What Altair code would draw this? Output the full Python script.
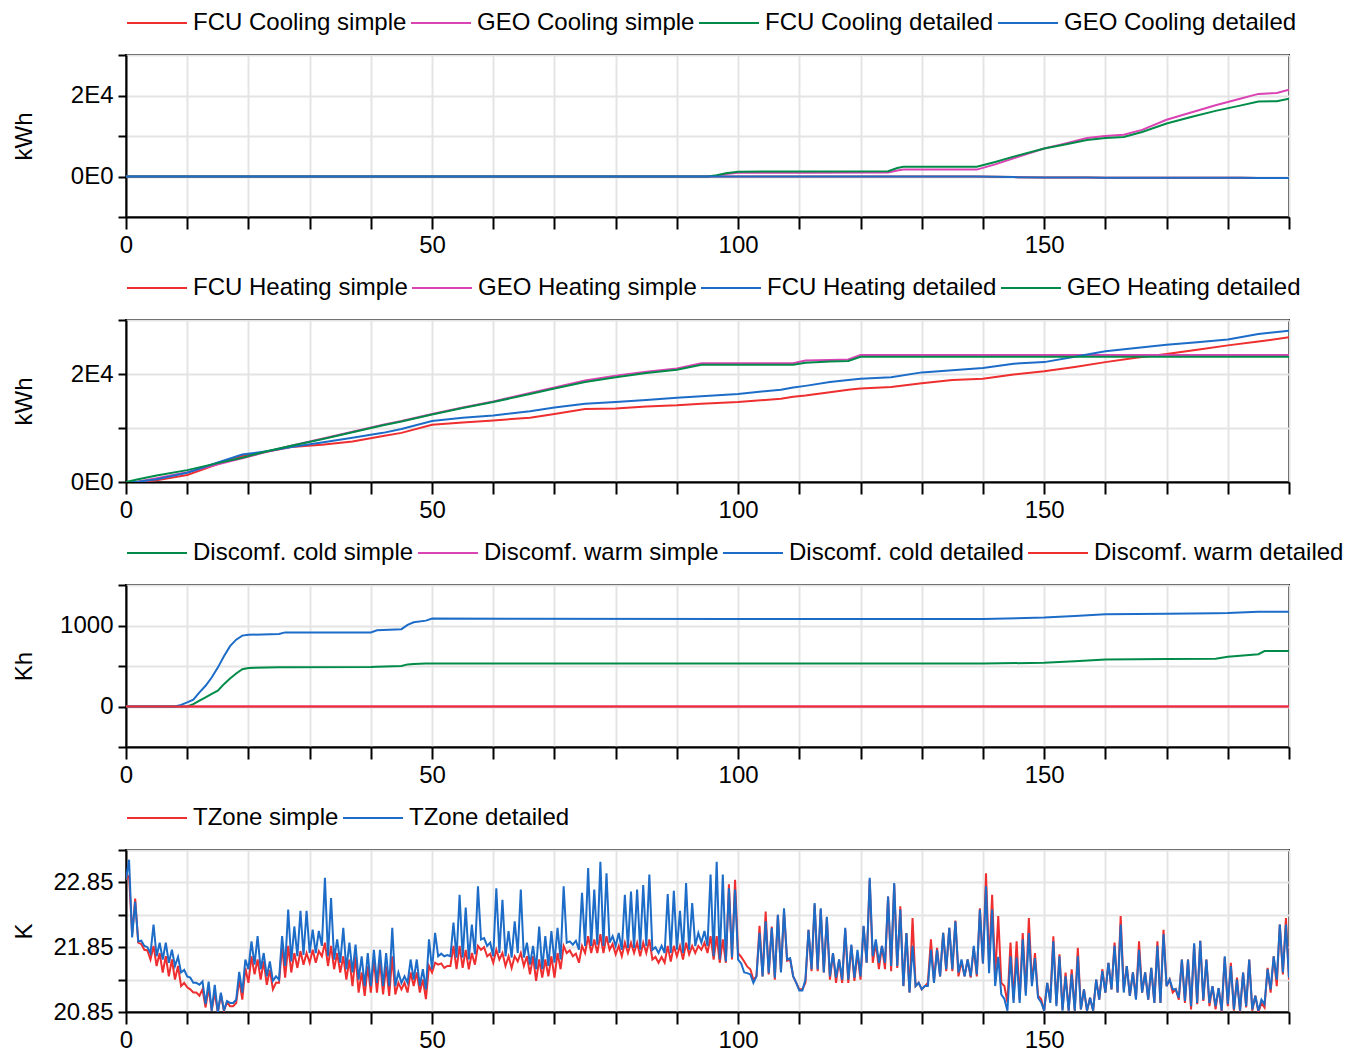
import altair as alt
import pandas as pd

FONT = "Liberation Sans"
RED = "#EE2E2F"
MAG = "#D943B4"
GRN = "#008C48"
BLU = "#1C6CC8"

# ---------------- Panel 1: cooling energy (kWh) ----------------
cool_t = [0, 95, 96.5, 98, 100, 110, 124.5, 126, 127, 139, 142, 145, 150, 153, 157,
          160, 163, 166, 170, 174, 178, 182, 185, 188, 190]
geo_cool_simple = [0, 0, 200, 600, 900, 950, 1000, 1500, 1700, 1700, 3000, 4500, 6900, 8000,
                   9500, 10000, 10300, 11500, 14000, 15800, 17600, 19200, 20400, 20600, 21400]
fcu_cool_detailed = [0, 0, 300, 800, 1200, 1250, 1300, 2100, 2400, 2400, 3600, 4900, 6900, 7800,
                     9000, 9500, 9760, 11000, 13100, 14700, 16200, 17500, 18500, 18600, 19200]
geo_cool_detailed = [0, 0, 0, 0, 0, 0, 0, 0, 0, 0, -80, -150, -250, -260, -270,
                     -280, -290, -300, -300, -310, -320, -330, -340, -340, -350]
fcu_cool_simple = list(geo_cool_detailed)

# ---------------- Panel 2: heating energy (kWh) ----------------
heat_t = [0, 2, 5, 10, 15, 19, 23, 27, 32, 37, 42, 45, 50, 55, 60, 66, 70, 75, 80, 85, 90, 94,
          100, 107, 109, 111, 115, 118, 120, 125, 130, 135, 140, 145, 150, 155, 160, 165, 170,
          175, 180, 185, 190]
fcu_heat_simple = [0, 30, 300, 1300, 3300, 4800, 5600, 6500, 6900, 7500, 8500, 9100, 10600, 11000,
                   11400, 11900, 12600, 13500, 13600, 14000, 14200, 14500, 14800, 15400, 15800,
                   16000, 16600, 17100, 17300, 17600, 18300, 18900, 19100, 19900, 20500, 21300,
                   22200, 23000, 23700, 24500, 25300, 26000, 26800]
geo_heat_simple = [0, 100, 700, 1800, 3300, 4400, 5600, 6700, 8000, 9300, 10600, 11300, 12600,
                   13800, 14900, 16500, 17500, 18800, 19700, 20400, 21000, 22000, 22000, 22000,
                   22000, 22500, 22600, 22700, 23500, 23500, 23500, 23500, 23500, 23500, 23500,
                   23500, 23500, 23500, 23500, 23500, 23500, 23500, 23500]
fcu_heat_detailed = [0, 50, 500, 1700, 3600, 5100, 5700, 6500, 7300, 8200, 9100, 9800, 11300,
                     11900, 12300, 13100, 13800, 14500, 14800, 15200, 15600, 15900, 16300, 17100,
                     17500, 17800, 18500, 18900, 19100, 19400, 20300, 20700, 21100, 21900, 22200,
                     23200, 24200, 24800, 25400, 25900, 26400, 27400, 28000]
geo_heat_detailed = [0, 500, 1200, 2200, 3500, 4500, 5700, 6700, 7900, 9200, 10500, 11200, 12500,
                     13700, 14800, 16300, 17300, 18500, 19400, 20200, 20800, 21700, 21700, 21700,
                     21700, 22100, 22300, 22400, 23200, 23200, 23200, 23200, 23200, 23200, 23200,
                     23200, 23200, 23200, 23200, 23200, 23200, 23200, 23200]

# ---------------- Panel 3: discomfort (Kh) ----------------
disc_t = [0, 8, 9, 10, 11, 12, 13, 14, 15, 16, 17, 18, 19, 20, 25, 26, 40, 41, 45, 46, 47, 49,
          50, 100, 140, 150, 155, 160, 170, 178, 180, 185, 186, 190]
disc_cold_simple = [0, 0, 0, 0, 30, 73, 114, 155, 195, 276, 345, 407, 460, 476, 484, 486, 488,
                    490, 500, 520, 525, 530, 532, 530, 530, 540, 560, 580, 585, 590, 615, 645,
                    685, 685]
disc_warm_simple = [0] * len(disc_t)
disc_cold_detailed = [0, 0, 20, 50, 85, 175, 256, 358, 480, 620, 745, 825, 875, 885, 895, 915,
                      915, 940, 955, 1008, 1040, 1060, 1085, 1081, 1081, 1098, 1118, 1138, 1146,
                      1152, 1155, 1171, 1171, 1171]
disc_warm_detailed = [0] * len(disc_t)

# ---------------- Panel 4: zone temperature, daily low (day d) and peak (day d + 0.5) ----------------
tz_detailed_low = [
    22.90, 22.00, 21.94, 21.87, 21.76, 21.71, 21.66, 21.61, 21.56, 21.46,
    21.40, 21.30, 21.27, 20.97, 20.87, 20.84, 20.87, 20.99, 21.04, 21.15,
    21.51, 21.58, 21.51, 21.40, 21.33, 21.35, 21.56, 21.63, 21.71, 21.73,
    21.76, 21.76, 21.87, 21.71, 21.66, 21.61, 21.51, 21.46, 21.35, 21.25,
    21.25, 21.30, 21.25, 21.25, 21.25, 21.30, 21.30, 21.35, 21.25, 21.20,
    21.51, 21.71, 21.71, 21.71, 21.69, 21.69, 21.66, 21.74, 21.97, 21.87,
    21.71, 21.76, 21.71, 21.69, 21.76, 21.69, 21.58, 21.51, 21.51, 21.56,
    21.61, 21.66, 21.92, 21.89, 21.81, 21.87, 21.87, 21.89, 21.87, 21.92,
    21.87, 21.81, 21.84, 21.84, 21.81, 21.87, 21.81, 21.76, 21.76, 21.76,
    21.81, 21.76, 21.81, 21.87, 21.92, 21.87, 21.71, 21.66, 21.63, 21.69,
    21.66, 21.46, 21.43, 21.40, 21.40, 21.45, 21.38, 21.46, 21.66, 21.40,
    21.18, 21.35, 21.51, 21.51, 21.46, 21.40, 21.38, 21.35, 21.35, 21.38,
    21.40, 21.61, 21.71, 21.61, 21.61, 21.56, 21.56, 21.25, 21.15, 21.25,
    21.20, 21.25, 21.30, 21.40, 21.51, 21.51, 21.46, 21.40, 21.40, 21.43,
    21.60, 21.45, 21.25, 21.12, 20.87, 20.99, 20.99, 21.10, 21.25, 21.07,
    20.87, 20.99, 20.94, 20.87, 20.87, 20.87, 20.89, 20.87, 20.87, 21.04,
    21.15, 21.20, 21.15, 21.15, 21.10, 21.04, 21.15, 21.04, 20.99, 20.99,
    21.25, 21.20, 21.07, 21.02, 20.94, 20.99, 21.04, 20.99, 20.94, 20.87,
    20.97, 20.89, 20.87, 20.94, 20.89, 20.87, 20.97, 21.20, 21.35, 21.46,
    21.38]
tz_detailed_peak = [
    23.20, 22.55, 21.95, 21.85, 22.20, 21.92, 21.92, 21.81, 21.70, 21.50,
    21.38, 21.30, 21.32, 21.32, 21.27, 21.15, 21.02, 20.99, 21.47, 21.66,
    21.94, 22.02, 21.76, 21.63, 21.40, 22.02, 22.43, 22.17, 22.41, 22.41,
    22.12, 22.10, 22.92, 22.61, 21.97, 22.15, 21.92, 21.89, 21.71, 21.76,
    21.81, 21.81, 21.76, 22.15, 21.46, 21.40, 21.66, 21.66, 21.51, 21.97,
    22.07, 21.75, 21.73, 22.23, 22.66, 22.46, 22.20, 22.79, 21.99, 21.92,
    22.76, 22.58, 22.10, 22.25, 22.74, 21.92, 21.87, 22.17, 22.02, 22.10,
    22.15, 22.79, 21.94, 21.95, 22.69, 23.07, 22.74, 23.17, 22.99, 22.02,
    22.07, 22.66, 22.71, 22.74, 22.81, 22.97, 21.85, 21.87, 22.67, 22.72,
    22.41, 22.84, 22.53, 22.07, 22.10, 22.97, 23.17, 22.97, 22.76, 22.74,
    21.60, 21.45, 21.30, 22.07, 22.25, 22.15, 22.35, 22.45, 21.68, 21.30,
    21.18, 22.12, 22.53, 22.45, 22.32, 21.76, 21.66, 22.15, 21.89, 21.81,
    22.18, 22.92, 21.97, 21.87, 22.63, 22.84, 22.43, 22.07, 21.87, 21.30,
    21.25, 21.81, 21.81, 22.07, 22.15, 22.25, 21.66, 21.66, 21.87, 22.43,
    22.79, 22.43, 21.70, 21.05, 21.71, 21.69, 21.97, 22.07, 21.68, 21.00,
    21.30, 21.94, 21.71, 21.40, 21.43, 21.71, 21.20, 21.07, 21.35, 21.48,
    21.61, 21.87, 22.20, 21.56, 21.46, 21.81, 21.46, 21.53, 21.87, 22.05,
    21.35, 21.20, 21.66, 21.66, 21.91, 21.95, 21.66, 21.25, 21.22, 21.71,
    21.56, 21.35, 21.46, 21.66, 21.10, 21.04, 21.51, 21.71, 22.20, 22.20]
tz_simple_low = [
    22.90, 22.05, 21.92, 21.81, 21.66, 21.56, 21.46, 21.40, 21.35, 21.25,
    21.23, 21.15, 21.10, 20.92, 20.87, 20.84, 20.87, 20.94, 20.99, 21.04,
    21.30, 21.43, 21.35, 21.27, 21.20, 21.30, 21.38, 21.46, 21.53, 21.58,
    21.61, 21.61, 21.71, 21.56, 21.51, 21.46, 21.35, 21.25, 21.15, 21.10,
    21.15, 21.15, 21.12, 21.10, 21.12, 21.20, 21.15, 21.25, 21.15, 21.05,
    21.46, 21.58, 21.53, 21.56, 21.51, 21.53, 21.51, 21.58, 21.81, 21.71,
    21.61, 21.66, 21.56, 21.53, 21.63, 21.56, 21.43, 21.33, 21.38, 21.40,
    21.38, 21.51, 21.76, 21.71, 21.61, 21.76, 21.76, 21.76, 21.76, 21.81,
    21.74, 21.71, 21.76, 21.76, 21.71, 21.76, 21.66, 21.61, 21.61, 21.63,
    21.71, 21.66, 21.74, 21.76, 21.81, 21.76, 21.66, 21.61, 21.61, 21.66,
    21.76, 21.63, 21.51, 21.40, 21.40, 21.43, 21.35, 21.48, 21.64, 21.40,
    21.20, 21.30, 21.48, 21.48, 21.46, 21.35, 21.30, 21.30, 21.30, 21.33,
    21.35, 21.61, 21.61, 21.51, 21.51, 21.48, 21.53, 21.25, 21.15, 21.25,
    21.20, 21.30, 21.33, 21.40, 21.48, 21.48, 21.40, 21.40, 21.38, 21.40,
    21.60, 21.60, 21.40, 21.30, 21.00, 21.04, 21.04, 21.15, 21.30, 21.10,
    20.87, 21.04, 20.97, 20.89, 20.87, 20.87, 20.89, 20.87, 20.87, 21.04,
    21.15, 21.20, 21.15, 21.20, 21.10, 21.07, 21.15, 21.04, 20.99, 20.99,
    21.25, 21.15, 21.04, 20.99, 20.89, 20.97, 21.02, 20.94, 20.89, 20.86,
    20.94, 20.87, 20.86, 20.92, 20.87, 20.85, 20.92, 21.15, 21.25, 21.43,
    21.35]
tz_simple_peak = [
    22.95, 22.60, 21.90, 21.80, 21.87, 21.76, 21.71, 21.66, 21.56, 21.30,
    21.20, 21.15, 21.20, 21.22, 21.15, 21.12, 21.00, 20.94, 21.35, 21.53,
    21.71, 21.66, 21.63, 21.50, 21.30, 21.87, 21.87, 21.76, 21.79, 21.76,
    21.81, 21.79, 21.92, 21.87, 21.76, 21.71, 21.66, 21.71, 21.46, 21.56,
    21.66, 21.63, 21.56, 21.71, 21.30, 21.30, 21.46, 21.46, 21.35, 21.56,
    21.61, 21.60, 21.56, 21.87, 21.87, 21.81, 21.76, 21.87, 21.85, 21.75,
    21.81, 21.76, 21.71, 21.71, 21.76, 21.71, 21.71, 21.66, 21.66, 21.71,
    21.76, 21.87, 21.80, 21.75, 21.87, 22.02, 21.97, 22.05, 22.02, 21.90,
    21.87, 21.92, 21.92, 21.92, 21.92, 21.97, 21.70, 21.70, 21.87, 21.87,
    21.87, 21.92, 21.87, 21.87, 21.92, 22.02, 22.02, 21.97, 22.82, 22.89,
    21.70, 21.55, 21.35, 22.18, 22.40, 22.17, 22.35, 22.40, 21.66, 21.30,
    21.20, 22.12, 22.51, 22.43, 22.30, 21.76, 21.66, 22.12, 21.87, 21.76,
    22.17, 22.89, 21.92, 21.87, 22.63, 22.82, 22.48, 22.07, 22.30, 21.30,
    21.25, 21.97, 21.84, 22.07, 22.15, 22.26, 21.63, 21.66, 21.84, 22.45,
    22.99, 22.66, 22.33, 21.25, 21.92, 21.94, 22.07, 22.30, 21.76, 21.05,
    21.30, 22.02, 21.74, 21.46, 21.51, 21.84, 21.20, 21.07, 21.35, 21.51,
    21.61, 21.92, 22.33, 21.56, 21.46, 21.94, 21.46, 21.53, 21.94, 22.12,
    21.35, 21.20, 21.66, 21.66, 21.89, 21.95, 21.66, 21.25, 21.22, 21.69,
    21.61, 21.38, 21.46, 21.66, 21.10, 20.99, 21.53, 21.71, 22.20, 22.30]

# ---------------- build tables ----------------
def long_table(t, series):
    rows = []
    for name, vals in series:
        for ti, vi in zip(t, vals):
            rows.append({"t": ti, "v": vi, "s": name})
    return pd.DataFrame(rows)


def daily_table(series):
    rows = []
    for name, lows, peaks in series:
        for d, lo in enumerate(lows):
            rows.append({"t": d, "v": lo, "s": name})
            if d < len(peaks):
                rows.append({"t": d + 0.5, "v": peaks[d], "s": name})
    return pd.DataFrame(rows)


cool_names = ["FCU Cooling simple", "GEO Cooling simple", "FCU Cooling detailed", "GEO Cooling detailed"]
df1 = long_table(cool_t, list(zip(cool_names, [fcu_cool_simple, geo_cool_simple, fcu_cool_detailed, geo_cool_detailed])))
heat_names = ["FCU Heating simple", "GEO Heating simple", "FCU Heating detailed", "GEO Heating detailed"]
df2 = long_table(heat_t, list(zip(heat_names, [fcu_heat_simple, geo_heat_simple, fcu_heat_detailed, geo_heat_detailed])))
disc_names = ["Discomf. cold simple", "Discomf. warm simple", "Discomf. cold detailed", "Discomf. warm detailed"]
df3 = long_table(disc_t, list(zip(disc_names, [disc_cold_simple, disc_warm_simple, disc_cold_detailed, disc_warm_detailed])))
tz_names = ["TZone simple", "TZone detailed"]
df4 = daily_table([(tz_names[0], tz_simple_low, tz_simple_peak), (tz_names[1], tz_detailed_low, tz_detailed_peak)])

W, H = 1163, 162
FS = 24


def x_enc():
    return alt.X("t:Q", title=None,
                 scale=alt.Scale(domain=[0, 190], nice=False, zero=False),
                 axis=alt.Axis(values=list(range(0, 191, 10)),
                               labelExpr="datum.value % 50 === 0 ? datum.label : ''",
                               tickSize=12, labelPadding=4, labelFlush=False))


def panel(df, names, colors, ytitle, ydomain, yvalues, ylabel_expr):
    return alt.Chart(df).mark_line(strokeWidth=2, clip=True).encode(
        x=x_enc(),
        y=alt.Y("v:Q", title=ytitle,
                scale=alt.Scale(domain=ydomain, nice=False, zero=False),
                axis=alt.Axis(values=yvalues, labelExpr=ylabel_expr, tickSize=8,
                              labelPadding=5, labelFlush=False,
                              titleX=-90, titleY=H / 2, titleAngle=-90)),
        color=alt.Color("s:N", sort=names,
                        scale=alt.Scale(domain=names, range=colors),
                        legend=alt.Legend(orient="top", direction="horizontal", columns=len(names),
                                          title=None, symbolType="M-3,0H3", symbolSize=400,
                                          symbolStrokeWidth=2, symbolOffset=19,
                                          labelFontSize=FS, labelFont=FONT,
                                          labelColor="black", labelOffset=24, columnPadding=0,
                                          padding=0, offset=20, labelLimit=0)),
    ).properties(width=W, height=H)


p1 = panel(df1, cool_names, [RED, MAG, GRN, BLU], "kWh", [-10000, 30000],
           [-10000, 0, 10000, 20000, 30000],
           "datum.value === 0 ? '0E0' : (datum.value === 20000 ? '2E4' : '')")
p2 = panel(df2, heat_names, [RED, MAG, BLU, GRN], "kWh", [0, 30000],
           [0, 10000, 20000, 30000],
           "datum.value === 0 ? '0E0' : (datum.value === 20000 ? '2E4' : '')")
p3 = panel(df3, disc_names, [GRN, MAG, BLU, RED], "Kh", [-500, 1500],
           [-500, 0, 500, 1000, 1500],
           "(datum.value === 0 || datum.value === 1000) ? format(datum.value, 'd') : ''")
p4 = panel(df4, tz_names, [RED, BLU], "K", [20.85, 23.35],
           [20.85, 21.35, 21.85, 22.35, 22.85, 23.35],
           "indexof(['20.85','21.85','22.85'], format(datum.value, '.2f')) >= 0 ? format(datum.value, '.2f') : ''")

chart = alt.vconcat(p1, p2, p3, p4, spacing=17).resolve_scale(
    color="independent", x="independent", y="independent"
).configure(
    font=FONT, padding={"left": 3, "top": 2, "right": 2, "bottom": 2}
).configure_view(
    stroke="black", strokeWidth=2
).configure_axis(
    labelFont=FONT, labelFontSize=FS, labelColor="black",
    titleFont=FONT, titleFontSize=FS, titleFontWeight="normal", titleColor="black",
    domainColor="black", domainWidth=2, tickColor="black", tickWidth=2,
    gridColor="#e4e4e4", gridWidth=2
)

chart.save("out.html", embed_options={"renderer": "svg", "actions": False})
